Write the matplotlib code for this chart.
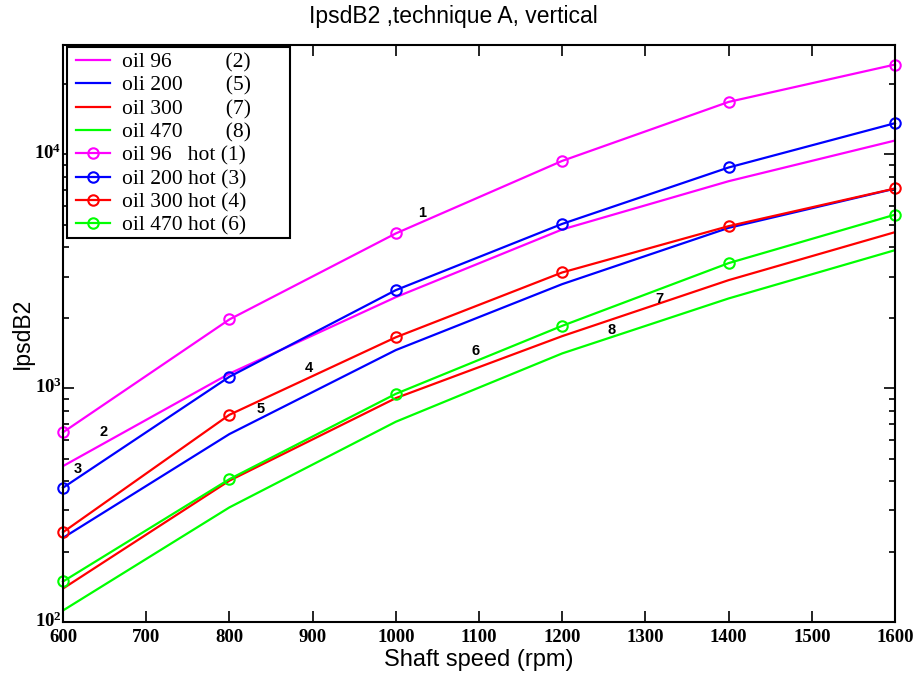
import math
import matplotlib
matplotlib.use("Agg")
import matplotlib.pyplot as plt
from matplotlib.ticker import FixedLocator, LogLocator, FuncFormatter, NullFormatter
from matplotlib.patches import Rectangle
from matplotlib.transforms import ScaledTranslation

plt.rcParams['mathtext.fontset'] = 'custom'
plt.rcParams['mathtext.rm'] = 'Liberation Serif:bold'
plt.rcParams['mathtext.bf'] = 'Liberation Serif:bold'

speed = [600, 800, 1000, 1200, 1400, 1600]

oil96 = [464, 1153, 2448, 4767, 7665, 11440]
oli200 = [229, 636, 1454, 2783, 4842, 7123]
oil300 = [139, 402, 906, 1668, 2894, 4642]
oil470 = [112, 309, 718, 1407, 2417, 3888]

oil96_hot = [647, 1966, 4584, 9363, 16730, 24170]
oil200_hot = [375, 1118, 2623, 5036, 8774, 13570]
oil300_hot = [242, 769, 1649, 3122, 4925, 7136]
oil470_hot = [149, 408, 945, 1846, 3422, 5514]

plain_labels = ["oil 96          (2)", "oli 200        (5)", "oil 300        (7)", "oil 470        (8)"]
hot_labels = ["oil 96   hot (1)", "oil 200 hot (3)", "oil 300 hot (4)", "oil 470 hot (6)"]
colors = ["#FF00FF", "#0000FF", "#FF0000", "#00FF00"]

curve_ids = ["1", "2", "3", "4", "5", "6", "7", "8"]
id_x = [1032, 649, 618, 896, 838, 1096, 1317, 1259]
id_y = [5600, 649, 451, 1216, 813, 1439, 2399, 1770]

y_major = [100, 1000, 10000]

fig = plt.figure(figsize=(9.17, 6.79), dpi=100)
ax = fig.add_axes([63/917, 1-622/679, (895-63)/917, (622-45)/679])

for vals, lab, c in zip([oil96, oli200, oil300, oil470], plain_labels, colors):
    ax.plot(speed, vals, color=c, lw=1.6, label=lab)
for vals, lab, c in zip([oil96_hot, oil200_hot, oil300_hot, oil470_hot], hot_labels, colors):
    ax.plot(speed, vals, color=c, lw=1.6, marker='o', ms=7.5, mfc='none',
            mec=c, mew=1.5, label=lab, clip_on=False)

for t, x, y in zip(curve_ids, id_x, id_y):
    ax.text(x, y, t, fontsize=10.5, fontweight='bold', family='Liberation Sans',
            ha='center', va='center')

ax.set_yscale('log')
ax.set_xlim(600, 1600)
ax.set_ylim(100, 29300)
ax.xaxis.set_major_locator(FixedLocator(list(range(600, 1601, 100))))
ax.yaxis.set_major_locator(FixedLocator(y_major))
ax.yaxis.set_minor_locator(LogLocator(base=10, subs=range(2, 10), numticks=20))
ax.yaxis.set_minor_formatter(NullFormatter())
ax.yaxis.set_major_formatter(FuncFormatter(lambda v, p: r'$\mathbf{10^{%d}}$' % round(math.log10(v))))

ax.tick_params(which='both', direction='in', top=True, right=True, width=1.2)
ax.tick_params(which='major', length=8, labelsize=13.5)
ax.tick_params(axis='x', which='major', pad=5)
ax.tick_params(axis='y', which='major', pad=1)
ax.tick_params(which='minor', length=4)
for lbl in ax.get_xticklabels():
    lbl.set_fontfamily('Liberation Serif')
    lbl.set_fontweight('bold')
for s in ax.spines.values():
    s.set_linewidth(1.5)

ax.set_xlabel("Shaft speed (rpm)", fontsize=17, family='Liberation Sans', labelpad=2)
ax.set_ylabel("IpsdB2", fontsize=16.5, family='Liberation Sans', labelpad=0.5)
fig.text(453/917, 1-17/679, "IpsdB2 ,technique A, vertical", fontsize=16.5,
         family='Liberation Sans', ha='center', va='center')

# legend box (opaque, square corners)
box = Rectangle((4/832, 1-(238-45)/577), (290-67)/832, (238-47)/577,
                transform=ax.transAxes, facecolor='white', edgecolor='black',
                lw=1.5, zorder=4.5, clip_on=False)
ax.add_patch(box)
leg = ax.legend(loc='upper left', bbox_to_anchor=((76-63)/832, 1-(52.5-45)/577),
                prop={'family': 'Liberation Serif', 'size': 15.5},
                frameon=False, borderaxespad=0, borderpad=0,
                handlelength=1.6, handletextpad=0.55, labelspacing=0.15)
leg.set_zorder(5)

fig.canvas.draw()
for tk in ax.yaxis.get_major_ticks():
    tk.label1.set_transform(tk.label1.get_transform() +
                            ScaledTranslation(0, 2/72, fig.dpi_scale_trans))

fig.savefig("out.png", dpi=100)
